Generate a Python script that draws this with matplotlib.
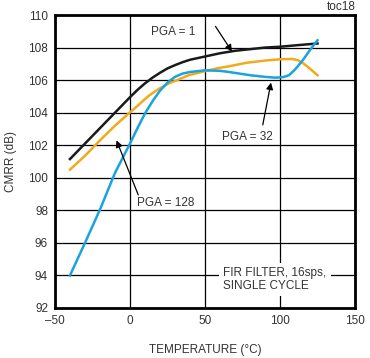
import matplotlib
matplotlib.use("Agg")
import matplotlib.pyplot as plt

plt.rcParams['font.family'] = ['Liberation Sans', 'DejaVu Sans']

# temperature (°C) and CMRR (dB)
temp_1 = [-40, -30, -20, -10, 0, 5, 10, 15, 20, 25, 30, 35, 40, 50, 60, 70, 80, 90, 100, 112, 125]
cmrr_1 = [101.15, 102.1, 103.05, 104.0, 104.95, 105.4, 105.8, 106.15, 106.45, 106.72, 106.92, 107.1,
          107.25, 107.45, 107.65, 107.8, 107.9, 108.0, 108.05, 108.15, 108.25]

temp_32 = [-40, -30, -20, -10, 0, 6, 12, 19, 26, 32, 39, 50, 58, 66, 78, 90, 100, 108, 112, 116, 120, 125]
cmrr_32 = [100.5, 101.35, 102.3, 103.2, 104.02, 104.5, 105.0, 105.45, 105.8, 106.02, 106.3, 106.55,
           106.72, 106.85, 107.07, 107.2, 107.28, 107.3, 107.22, 107.0, 106.7, 106.3]

temp_128 = [-40, -30, -20, -10, -5, 0, 5, 10, 15, 20, 25, 30, 35, 40, 50, 60, 66, 73, 80, 90, 97,
            102, 106, 110, 115, 120, 125]
cmrr_128 = [94.0, 96.0, 98.05, 100.3, 101.2, 102.1, 103.05, 103.95, 104.7, 105.35, 105.85, 106.2,
            106.4, 106.5, 106.6, 106.57, 106.5, 106.4, 106.3, 106.2, 106.15, 106.18, 106.3, 106.65,
            107.2, 107.85, 108.45]

xticks = [-50, 0, 50, 100, 150]
xlabels = ['\u201350', '0', '50', '100', '150']
yticks = [92, 94, 96, 98, 100, 102, 104, 106, 108, 110]

fig = plt.figure(figsize=(3.7, 3.58), dpi=100)
ax = fig.add_axes([0.1486, 0.1397, 0.8109, 0.8184])

ax.plot(temp_1, cmrr_1, color='#1a1a1a', lw=1.8, solid_joinstyle='round', zorder=4)
ax.plot(temp_32, cmrr_32, color='#f2aa1c', lw=1.8, solid_joinstyle='round', zorder=4)
ax.plot(temp_128, cmrr_128, color='#1aa3dd', lw=1.8, solid_joinstyle='round', zorder=5)

ax.set_xlim(-50, 150)
ax.set_ylim(92, 110)
ax.set_xticks(xticks)
ax.set_xticklabels(xlabels)
ax.set_yticks(yticks)
ax.grid(True, color='black', lw=0.9)
ax.set_axisbelow(True)
ax.tick_params(length=0, labelsize=8.5, colors='#333333', pad=5)
for s in ax.spines.values():
    s.set_linewidth(2)

ax.set_xlabel('TEMPERATURE (\u00b0C)', fontsize=8.5, color='#333333', labelpad=12)
ax.set_ylabel('CMRR (dB)', fontsize=8.5, color='#333333', labelpad=8)

# curve labels with arrows
arrow = dict(arrowstyle='-|>', color='black', lw=0.9, mutation_scale=10, shrinkA=0, shrinkB=0)
ax.text(29, 108.95, 'PGA = 1', fontsize=8.5, color='#333333', ha='center', va='center', zorder=6)
ax.annotate('', xy=(68, 107.75), xytext=(57, 109.3), arrowprops=arrow, zorder=6)

ax.text(78, 102.5, 'PGA = 32', fontsize=8.5, color='#333333', ha='center', va='center', zorder=6)
ax.annotate('', xy=(94, 105.85), xytext=(88.5, 103.25), arrowprops=arrow, zorder=6)

ax.text(23.5, 98.45, 'PGA = 128', fontsize=8.5, color='#333333', ha='center', va='center', zorder=6)
ax.annotate('', xy=(-9, 102.3), xytext=(5.5, 98.95), arrowprops=arrow, zorder=6)

ax.text(62.3, 93.75, 'FIR FILTER, 16sps,\nSINGLE CYCLE', fontsize=8.5, color='#333333',
        ha='left', va='center', linespacing=1.1,
        bbox=dict(facecolor='white', edgecolor='none', pad=3), zorder=6)

fig.text(0.962, 0.98, 'toc18', fontsize=8.5, color='#333333', ha='right', va='center')

fig.savefig('out.png', dpi=100)
